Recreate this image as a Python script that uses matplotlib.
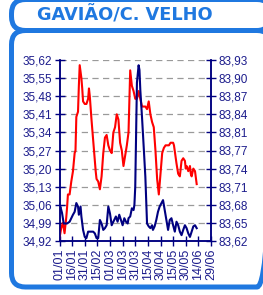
import matplotlib
matplotlib.use('Agg')
import matplotlib.pyplot as plt
import numpy as np
from matplotlib.patches import FancyBboxPatch

# ---------------- data ----------------
title = "GAVIÃO/C. VELHO"

x_tick_days = [0, 15, 30, 45, 60, 75, 90, 105, 120, 135, 150, 165, 180]
x_tick_labels = ["01/01", "16/01", "31/01", "15/02", "01/03", "16/03", "31/03",
                 "15/04", "30/04", "15/05", "30/05", "14/06", "29/06"]

left_tick_labels = ["34,92", "34,99", "35,06", "35,13", "35,20", "35,27",
                    "35,34", "35,41", "35,48", "35,55", "35,62"]
right_tick_labels = ["83,62", "83,65", "83,68", "83,71", "83,74", "83,77",
                     "83,81", "83,84", "83,87", "83,90", "83,93"]
left_min, left_max = 34.92, 35.62
right_min, right_max = 83.62, 83.93

# red series (left axis): day since 01/01, value
red_days = [0, 2, 4, 6, 8, 9, 10, 12, 14, 16, 18, 19, 20, 22, 23, 24, 26, 27, 28,
            30, 32, 34, 35, 36, 38, 40, 41, 43, 44, 46, 48, 50, 52, 54, 56, 58,
            60, 62, 64, 66, 68, 70, 72, 74, 76, 78, 80, 82, 84, 86, 88, 90, 92,
            94, 96, 98, 102, 104, 106, 108, 110, 112, 114, 116, 118, 120, 122,
            124, 126, 130, 132, 135, 136, 139, 141, 143, 145, 147, 149, 150,
            151, 153, 155, 156, 157, 159, 161, 163]
red_vals = [34.93, 34.97, 34.99, 34.95, 35.01, 35.05, 35.10, 35.10, 35.15, 35.19,
            35.26, 35.27, 35.40, 35.42, 35.52, 35.60, 35.55, 35.51, 35.46,
            35.45, 35.45, 35.47, 35.51, 35.48, 35.39, 35.31, 35.27, 35.19, 35.16,
            35.15, 35.12, 35.17, 35.26, 35.32, 35.33, 35.29,
            35.27, 35.26, 35.34, 35.36, 35.41, 35.39, 35.30, 35.27, 35.21, 35.25,
            35.29, 35.34, 35.58, 35.52, 35.50, 35.47, 35.47,
            35.50, 35.47, 35.44, 35.44, 35.43, 35.46, 35.41, 35.38, 35.36, 35.27,
            35.16, 35.10, 35.18, 35.26,
            35.28, 35.29, 35.29, 35.30, 35.30, 35.29, 35.22, 35.18, 35.17, 35.23,
            35.24, 35.23, 35.20,
            35.21, 35.19, 35.21, 35.18, 35.17, 35.20, 35.19, 35.14]

# blue series (right axis)
blue_days = [0, 1, 3, 5, 9, 12, 14, 16, 18, 20, 22, 23, 25, 26, 28, 30, 32, 34,
             36, 40, 42, 44, 46, 48, 50, 52, 54, 56, 58, 60, 62, 65, 67, 69, 71,
             73, 75, 77, 79, 81, 82, 84, 86, 88, 89, 90, 92, 94, 95, 96, 98, 100,
             102, 104, 106, 108, 110, 111, 113, 115, 117, 119, 123, 125, 127, 129,
             131, 133, 135, 137, 139, 141, 143, 145, 147, 149, 151, 153, 155, 157,
             159, 161, 163]
blue_vals = [83.673, 83.679, 83.668, 83.650, 83.650, 83.653, 83.659, 83.665, 83.670,
             83.685, 83.679, 83.665, 83.679, 83.662, 83.639, 83.627, 83.625, 83.636,
             83.636, 83.636, 83.633, 83.625, 83.625, 83.656, 83.650, 83.639, 83.642,
             83.647, 83.679, 83.667, 83.647, 83.656, 83.662, 83.653, 83.665,
             83.656, 83.647, 83.659, 83.653, 83.650, 83.659, 83.662, 83.676, 83.673,
             83.682, 83.713, 83.891, 83.921, 83.913, 83.879, 83.833, 83.782,
             83.730, 83.650, 83.645, 83.642, 83.647, 83.639, 83.645, 83.656, 83.670,
             83.679, 83.690, 83.673, 83.656, 83.639,
             83.656, 83.659, 83.647, 83.636, 83.653, 83.647, 83.636, 83.630, 83.639,
             83.647, 83.642, 83.633, 83.627, 83.636,
             83.645, 83.647, 83.642]

# ---------------- style ----------------
W, H = 263, 295
frame_blue = '#1f78e0'
navy = '#000080'
label_col = '#1c1c8c'
red = '#ff0000'

fig = plt.figure(figsize=(W / 100, H / 100), dpi=100)
fig.patch.set_facecolor('white')

# background frame, in pixel coordinates
bg = fig.add_axes([0, 0, 1, 1], zorder=0)
bg.set_xlim(0, W)
bg.set_ylim(H, 0)
bg.axis('off')
lw_frame = 5 * 72 / 100
right_edge = 271
bg.add_patch(FancyBboxPatch((11.5, -0.5), right_edge - 11.5, 31.0,
                            boxstyle='round,pad=0,rounding_size=14',
                            fill=False, ec=frame_blue, lw=lw_frame))
bg.add_patch(FancyBboxPatch((11.5, 30.5), right_edge - 11.5, 287 - 30.5,
                            boxstyle='round,pad=0,rounding_size=14',
                            fill=False, ec=frame_blue, lw=lw_frame))
bg.text(125, 15, title, ha='center', va='center', color=frame_blue,
        fontsize=12.8, fontweight='bold', family='DejaVu Sans')

# main axes
x0, x1, y0, y1 = 59.5, 211, 60, 241
ax = fig.add_axes([x0 / W, 1 - y1 / H, (x1 - x0) / W, (y1 - y0) / H], zorder=1)
ax.patch.set_alpha(0)
ax2 = ax.twinx()

ax.plot(red_days, red_vals, color=red, lw=1.5, zorder=3)
ax2.plot(blue_days, blue_vals, color=navy, lw=1.5, zorder=3)

ax.set_xlim(0, 180)
ax.set_ylim(left_min, left_max)
ax2.set_ylim(right_min, right_max)

ax.set_yticks(np.linspace(left_min, left_max, len(left_tick_labels)))
ax.set_yticklabels(left_tick_labels)
ax2.set_yticks(np.linspace(right_min, right_max, len(right_tick_labels)))
ax2.set_yticklabels(right_tick_labels)
ax.set_xticks(x_tick_days)
ax.set_xticklabels(x_tick_labels, rotation=90)

ax.yaxis.grid(True, color='#9a9a9a', linestyle=(0, (5, 3.5)), lw=0.9)
ax.set_axisbelow(True)

for a in (ax, ax2):
    a.spines['top'].set_visible(False)
    for s in ('left', 'right', 'bottom'):
        a.spines[s].set_color(navy)
        a.spines[s].set_linewidth(1.1)
    a.tick_params(direction='inout', length=7, width=1, color=navy,
                  labelcolor=label_col, labelsize=8.5)
    for t in a.get_xticklabels() + a.get_yticklabels():
        t.set_family('Liberation Sans')
ax.tick_params(axis='y', pad=2)
ax2.tick_params(axis='y', pad=2)
ax.tick_params(axis='x', pad=2, labelsize=9)

fig.savefig('out.png', dpi=100)
